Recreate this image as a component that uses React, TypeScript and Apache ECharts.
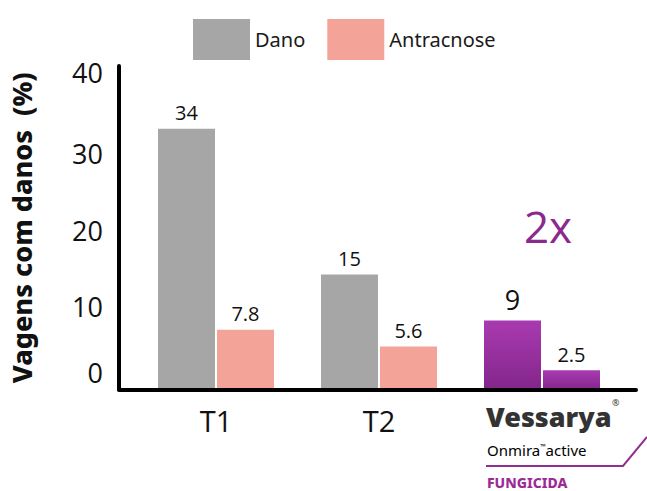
import React, { useEffect, useRef } from "react";
import * as echarts from "echarts";

const categories = ["T1", "T2", "Vessarya"];
const dano = [34, 15, 9];
const antracnose = [7.8, 5.6, 2.5];
const yMin = 0;
const yMax = 42.2;
const yInterval = 10;
const seriesNames = ["Dano", "Antracnose"];
const yTitle = "Vagens com danos  (%)";

const GRAY = "#A6A6A6";
const SALMON = "#F4A398";
const PURPLE = "#8B2A8E";

export default function App() {
  const ref = useRef<HTMLDivElement>(null);

  useEffect(() => {
    document.body.style.margin = "0";
    const chart = echarts.init(ref.current!, null, { renderer: "svg" });
    const purpleGrad = () =>
      new echarts.graphic.LinearGradient(0, 0, 0, 1, [
        { offset: 0, color: "#A93AB1" },
        { offset: 1, color: "#83268A" },
      ]);
    const lastIdx = categories.length - 1;
    const mkData = (vals: number[], big: boolean) =>
      vals.map((v, i) =>
        i === lastIdx
          ? {
              value: v,
              itemStyle: { color: purpleGrad() },
              label: big ? { fontSize: 27, distance: 8 } : {},
            }
          : { value: v }
      );

    const labelStyle = {
      show: true,
      position: "top",
      distance: 6,
      color: "#111",
      fontSize: 20,
      fontFamily: "Open Sans",
    };

    chart.setOption({
      animation: false,
      legend: {
        data: seriesNames,
        left: 188,
        top: 14,
        icon: "rect",
        itemWidth: 57,
        itemHeight: 41,
        itemGap: 22,
        textStyle: { fontSize: 20, color: "#1a1a1a", fontFamily: "Noto Sans" },
      },
      grid: [
        { left: 118, right: 11, top: 66, bottom: 101.5 },
        { left: 134.5, right: 23.5, top: 66, bottom: 101.5 },
      ],
      xAxis: [
        {
          gridIndex: 0,
          type: "value",
          min: 0,
          max: 1,
          z: 5,
          axisLine: { show: true, lineStyle: { color: "#000", width: 4, cap: "round" } },
          axisTick: { show: false },
          axisLabel: { show: false },
          splitLine: { show: false },
        },
        {
          gridIndex: 1,
          type: "category",
          data: categories,
          axisLine: { show: false },
          axisTick: { show: false },
          axisLabel: {
            margin: 16,
            fontSize: 29,
            color: "#111",
            fontFamily: "Open Sans",
            formatter: (v: string) => (v === "Vessarya" ? "" : v),
          },
        },
      ],
      yAxis: [
        {
          gridIndex: 0,
          type: "value",
          min: yMin,
          max: yMax,
          interval: yInterval,
          z: 5,
          name: yTitle,
          nameLocation: "middle",
          nameRotate: 90,
          nameGap: 84,
          nameTextStyle: {
            fontSize: 27,
            fontWeight: 800,
            color: "#111",
            fontFamily: "Noto Sans",
          },
          axisLine: { show: true, lineStyle: { color: "#000", width: 4, cap: "round" } },
          axisTick: { show: false },
          splitLine: { show: false },
          axisLabel: {
            showMaxLabel: false,
            margin: 16,
            color: "#111",
            fontFamily: "Open Sans",
            fontSize: 27,
            formatter: (v: number) =>
              v === 0 ? `{z|${v}}` : v === 40 ? `{t|${v}}` : `{n|${v}}`,
            rich: {
              n: { fontSize: 27, fontFamily: "Open Sans", color: "#111", padding: [0, 0, 12, 0] },
              z: { fontSize: 27, fontFamily: "Open Sans", color: "#111", padding: [0, 0, 34, 0] },
              t: { fontSize: 27, fontFamily: "Open Sans", color: "#111", padding: [0, 0, 20, 0] },
            },
          },
        },
        {
          gridIndex: 1,
          type: "value",
          min: yMin,
          max: yMax,
          interval: yInterval,
          show: false,
          splitLine: { show: false },
        },
      ],
      series: [
        {
          name: seriesNames[0],
          type: "bar",
          xAxisIndex: 1,
          yAxisIndex: 1,
          barWidth: 57,
          barGap: "3.5%",
          itemStyle: { color: GRAY },
          label: labelStyle,
          data: mkData(dano, true),
        },
        {
          name: seriesNames[1],
          type: "bar",
          xAxisIndex: 1,
          yAxisIndex: 1,
          barWidth: 57,
          barGap: "3.5%",
          itemStyle: { color: SALMON },
          label: labelStyle,
          data: mkData(antracnose, false),
        },
      ],
      graphic: [
        {
          type: "text",
          x: 548,
          y: 226,
          style: {
            text: "2x",
            fontSize: 44,
            fontFamily: "Open Sans",
            fill: PURPLE,
            align: "center",
            verticalAlign: "middle",
          },
        },
        {
          type: "text",
          x: 486,
          y: 416,
          style: {
            text: "Vessarya",
            fontSize: 27,
            fontWeight: 900,
            fontFamily: "Noto Sans",
            fill: "#333",
            align: "left",
            verticalAlign: "middle",
          },
        },
        {
          type: "text",
          x: 612,
          y: 402,
          style: {
            text: "®",
            fontSize: 9,
            fontFamily: "Noto Sans",
            fill: "#333",
            align: "left",
            verticalAlign: "middle",
          },
        },
        {
          type: "text",
          x: 487,
          y: 450,
          style: {
            text: "{a|Onmira}{s|™}{a|active}",
            align: "left",
            verticalAlign: "middle",
            rich: {
              a: { fontSize: 15, fontFamily: "Noto Sans", color: "#333" },
              s: { fontSize: 7, fontFamily: "Noto Sans", color: "#333", verticalAlign: "top", padding: [0, 0, 8, 0] },
            },
          },
        },
        {
          type: "polyline",
          shape: { points: [[486, 466], [623, 466], [647, 437]] },
          style: { stroke: "#912F93", lineWidth: 2, fill: "none" },
        },
        {
          type: "text",
          x: 487,
          y: 482,
          style: {
            text: "FUNGICIDA",
            fontSize: 14,
            fontWeight: 800,
            fontFamily: "Noto Sans",
            fill: "#9A2C96",
            align: "left",
            verticalAlign: "middle",
          },
        },
      ],
    });
    return () => chart.dispose();
  }, []);

  return <div ref={ref} style={{ width: 647, height: 491 }} />;
}
